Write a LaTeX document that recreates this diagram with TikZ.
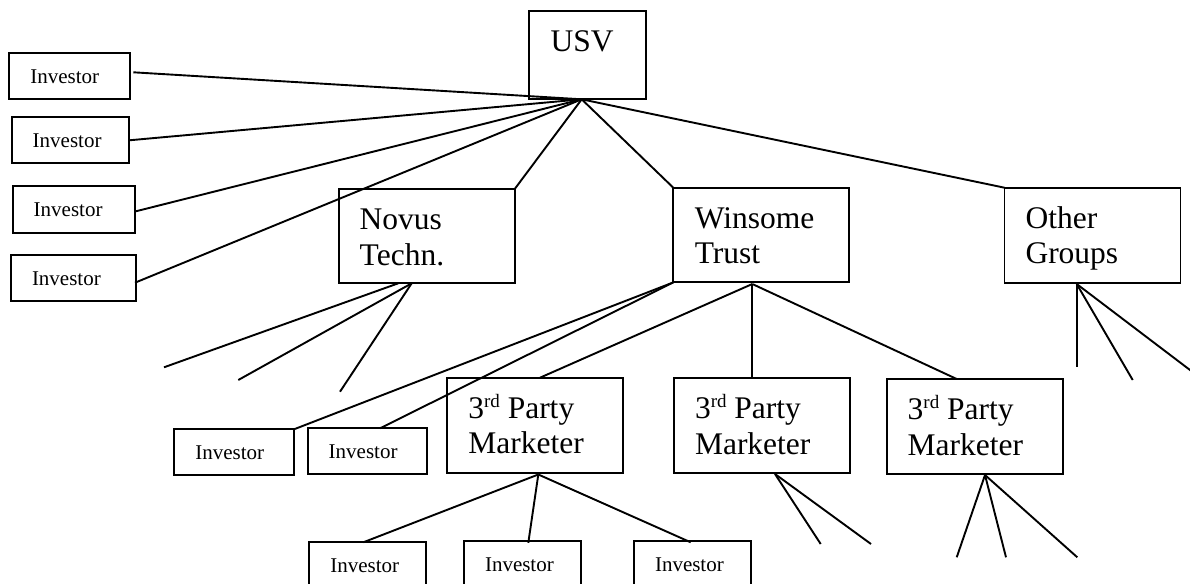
\documentclass[tikz,border=0pt]{standalone}
\usepackage{fontspec}
\setmainfont{Liberation Serif}
\usetikzlibrary{calc}
\newcommand\rdsup{\raisebox{0.35em}{\fontsize{19}{19}\selectfont rd}}
\begin{document}
\begin{tikzpicture}[x=1pt,y=-1pt,
  box/.style={draw,line width=1.9pt,inner sep=0pt,outer sep=0pt,anchor=north west},
  big/.style={anchor=base west,inner sep=0pt,outer sep=0pt,align=left,font=\fontsize{31.5}{35.5}\selectfont},
  small/.style={anchor=base west,inner sep=0pt,outer sep=0pt,font=\fontsize{21}{24}\selectfont},
  conn/.style={line width=1.9pt}]
\useasboundingbox (0,0) rectangle (1190,583);
\fill[white] (0,0) rectangle (1190,583);
\clip (0,0) rectangle (1190,583);

% boxes
\node[box,minimum width=116.7pt,minimum height=88.6pt] (usv) at (529,10.7) {};
\node[box,minimum width=120.7pt,minimum height=46pt] (inv1) at (9.3,53.3) {};
\node[box,minimum width=117.6pt,minimum height=46pt] (inv2) at (11.7,117.3) {};
\node[box,minimum width=122.3pt,minimum height=47.6pt] (inv3) at (12.7,185.7) {};
\node[box,minimum width=125pt,minimum height=46pt] (inv4) at (11,255) {};
\node[box,minimum width=176pt,minimum height=94pt] (novus) at (338.7,189) {};
\node[box,minimum width=176pt,minimum height=94.7pt] (winsome) at (673.3,187.7) {};
\node[box,minimum width=176pt,minimum height=95pt] (other) at (1004.5,187.7) {};
\node[box,minimum width=119.7pt,minimum height=45.7pt] (invA) at (174.3,429.3) {};
\node[box,minimum width=119.6pt,minimum height=45.7pt] (invB) at (307.7,428.3) {};
\node[box,minimum width=176.6pt,minimum height=95pt] (mk1) at (446.7,377.7) {};
\node[box,minimum width=176pt,minimum height=94.4pt] (mk2) at (674,378.3) {};
\node[box,minimum width=176.6pt,minimum height=95pt] (mk3) at (886.7,379) {};
\node[box,minimum width=116.7pt,minimum height=46pt] (invC) at (309.3,542.3) {};
\node[box,minimum width=117pt,minimum height=46pt] (invD) at (464,541.3) {};
\node[box,minimum width=117pt,minimum height=46pt] (invE) at (634,541.3) {};

% texts (base anchor of a two-line node is the baseline of its last line)
\node[big] (usvt) at ([shift={(21.5,40.8)}]usv.north west) {USV};
\node[big] (novust) at ([shift={(21,76)}]novus.north west) {Novus\\Techn.};
\node[big] (winsomet) at ([shift={(21.5,76)}]winsome.north west) {Winsome\\Trust};
\node[big] (othert) at ([shift={(21,76)}]other.north west) {Other\\Groups};
\node[big] (mk1t) at ([shift={(21.6,76.1)}]mk1.north west) {3\rdsup{} Party\\Marketer};
\node[big] (mk2t) at ([shift={(21,76)}]mk2.north west) {3\rdsup{} Party\\Marketer};
\node[big] (mk3t) at ([shift={(21,76)}]mk3.north west) {3\rdsup{} Party\\Marketer};
\foreach \n in {inv1,inv2,inv3,inv4,invA,invB,invC,invD,invE}
  \node[small] (\n t) at ([shift={(21,30.5)}]\n.north west) {Investor};

% junction points
\coordinate (usvj) at (581.7,99.3);
\coordinate (nj1) at (398.3,283.3);
\coordinate (nj2) at (411.7,283.3);
\coordinate (wj) at (752.3,284);
\coordinate (m1j) at (538.3,474.5);
\coordinate (m2j) at (775,474);
\coordinate (m3j) at (985,475);
\coordinate (oj) at (1076.7,284);

% free ends
\coordinate (ne1) at (164,367.3);
\coordinate (ne2) at (238.3,380);
\coordinate (ne3) at (340,391.7);
\coordinate (m2e1) at (820.7,544);
\coordinate (m2e2) at (871,544);
\coordinate (m3e1) at (956.7,557.3);
\coordinate (m3e2) at (1006,557.3);
\coordinate (m3e3) at (1077.3,557.3);
\coordinate (oe1) at (1076.7,367.3);
\coordinate (oe2) at (1132.7,380);
\coordinate (oe3) at (1200,377.6);

% USV connectors
\draw[conn] ($(inv1.east)+(3.3,-4)$) -- (usvj);
\draw[conn] (inv2.east) -- (usvj);
\draw[conn] ($(inv3.east)+(0,2)$) -- (usvj);
\draw[conn] ($(inv4.east)+(-1,4.7)$) -- (usvj);
\draw[conn] (novus.north east) -- (usvj);
\draw[conn] (winsome.north west) -- (usvj);
\draw[conn] (other.north west) -- (usvj);

% Novus
\draw[conn] (nj1) -- (ne1);
\draw[conn] (nj2) -- (ne2);
\draw[conn] (nj2) -- (ne3);

% Winsome
\draw[conn] (winsome.south west) -- (invA.north east);
\draw[conn] (winsome.south west) -- ($(invB.north west)+(72.3,0)$);
\draw[conn] (wj) -- ($(mk1.north)+(5,0)$);
\draw[conn] (wj) -- (wj |- mk2.north);
\draw[conn] (wj) -- ($(mk3.north)+(-18.3,0)$);

% Marketers
\draw[conn] (m1j) -- ($(invC.north west)+(54,0)$);
\draw[conn] (m1j) -- ($(invD.north west)+(64.3,1.5)$);
\draw[conn] (m1j) -- ($(invE.north west)+(56.7,1)$);
\draw[conn] (m2j) -- (m2e1);
\draw[conn] (m2j) -- (m2e2);
\draw[conn] (m3j) -- (m3e1);
\draw[conn] (m3j) -- (m3e2);
\draw[conn] (m3j) -- (m3e3);

% Other groups
\draw[conn] (oj) -- (oe1);
\draw[conn] (oj) -- (oe2);
\draw[conn] (oj) -- (oe3);
\end{tikzpicture}
\end{document}
